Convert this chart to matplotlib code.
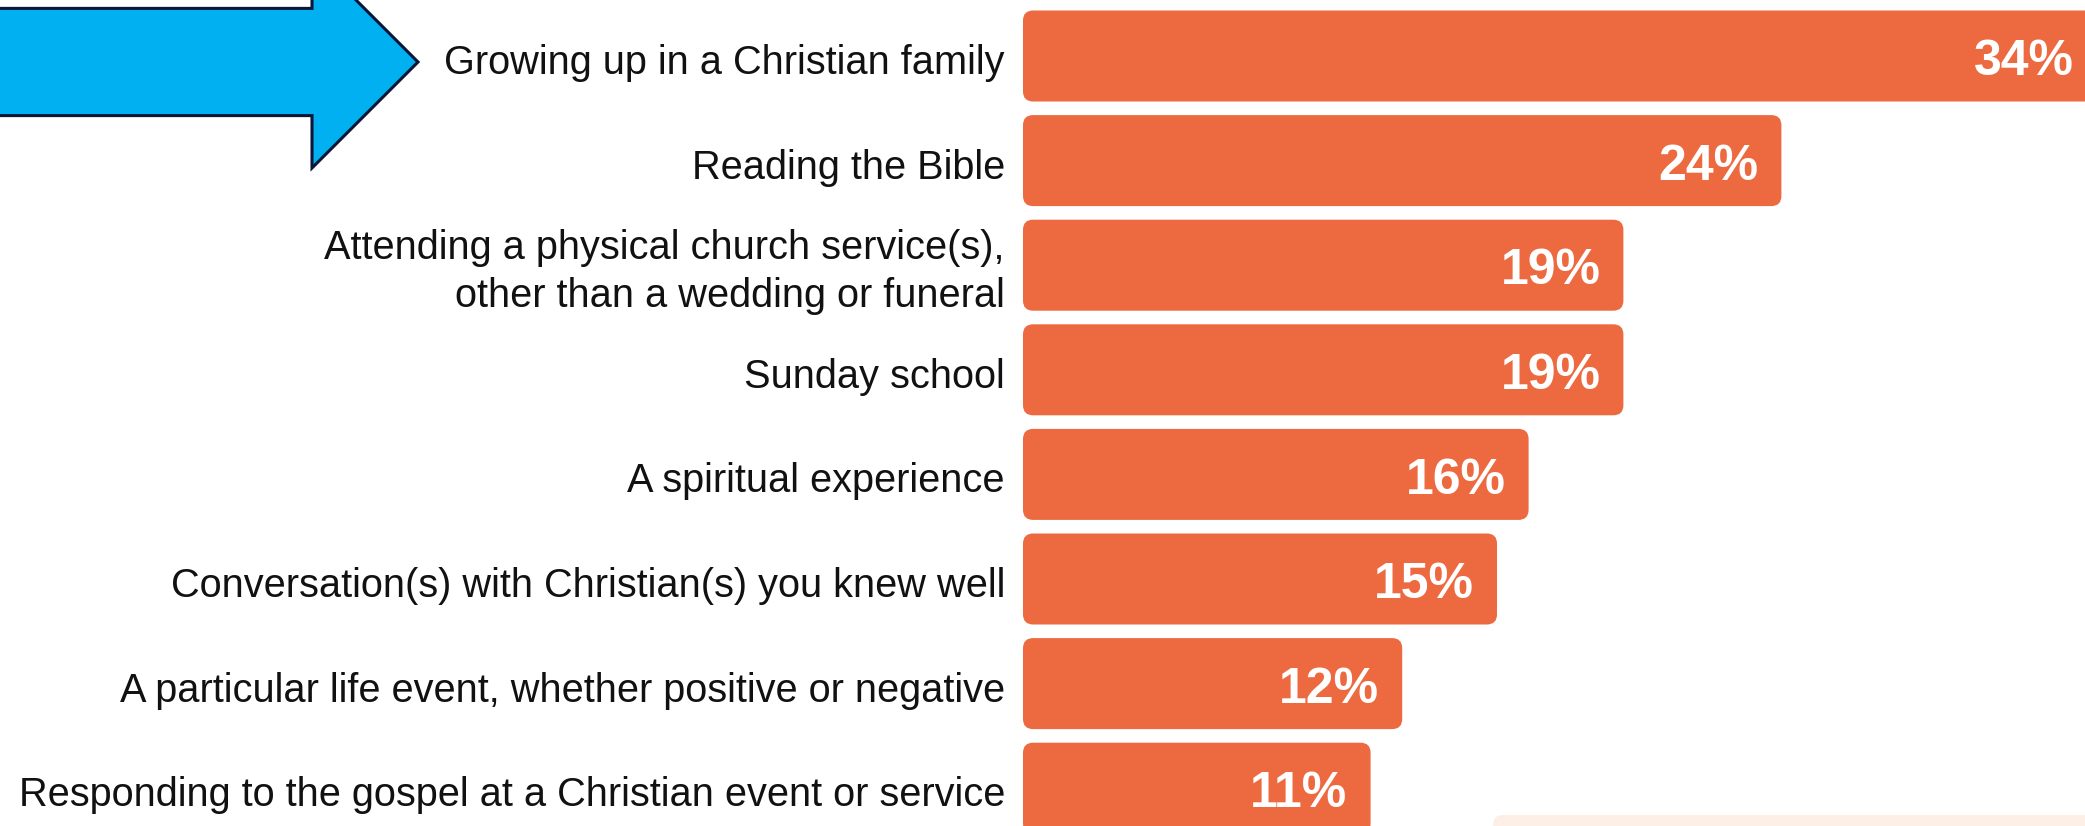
import matplotlib
matplotlib.use("Agg")
import matplotlib.pyplot as plt
from matplotlib import font_manager
from matplotlib.patches import FancyBboxPatch, Polygon

# data
categories = [
    "Growing up in a Christian family",
    "Reading the Bible",
    "Attending a physical church service(s),\nother than a wedding or funeral",
    "Sunday school",
    "A spiritual experience",
    "Conversation(s) with Christian(s) you knew well",
    "A particular life event, whether positive or negative",
    "Responding to the gospel at a Christian event or service",
]
values = [34, 24, 19, 19, 16, 15, 12, 11]
value_labels = ["34%", "24%", "19%", "19%", "16%", "15%", "12%", "11%"]

BAR = "#ED6A40"
BLUE = "#00B0F0"
NAVY = "#0B1638"
PEACH = "#FDEEE6"

W, H = 2085, 826
PX_PER_PCT = 31.6
X0 = 1023          # pixel where 0% sits
PITCH = 104.6      # pixels between bar centres
Y0 = 56            # pixel centre of first bar

names = {f.name for f in font_manager.fontManager.ttflist}
narrow = "Liberation Sans Narrow" if "Liberation Sans Narrow" in names else "Liberation Sans"

fig = plt.figure(figsize=(W / 100, H / 100), dpi=100)
ax = fig.add_axes([0, 0, 1, 1])
ax.set_xlim(-X0 / PX_PER_PCT, (W - X0) / PX_PER_PCT)
ax.set_ylim((H - Y0) / PITCH, -Y0 / PITCH)
ax.axis("off")

# pixel -> data helpers for decorations
def px(x):
    return (x - X0) / PX_PER_PCT

def py(y):
    return (y - Y0) / PITCH

aspect = PX_PER_PCT / PITCH
bar_h = 0.87

for i, (cat, v, lab) in enumerate(zip(categories, values, value_labels)):
    box = FancyBboxPatch(
        (0, i - bar_h / 2), v, bar_h,
        boxstyle="round,pad=0,rounding_size=0.32",
        mutation_aspect=aspect,
        linewidth=0, facecolor=BAR,
    )
    ax.add_patch(box)
    ax.text(-18 / PX_PER_PCT, i + 7 / PITCH, cat, ha="right", va="center",
            fontsize=28.6, family=narrow, color="#111111", linespacing=1.35)
    ax.text(v - 23 / PX_PER_PCT, i + 0.06, lab, ha="right", va="center",
            fontsize=36, family=narrow, weight="bold", color="white")

# faint panel at bottom right
ax.add_patch(FancyBboxPatch(
    (px(1493), py(815)), px(2200) - px(1493), py(900) - py(815),
    boxstyle="round,pad=0,rounding_size=0.32", mutation_aspect=aspect,
    linewidth=0, facecolor=PEACH, zorder=0))

# blue arrow pointing at the top category
arrow_pts = [(-20, 8.4), (312, 8.4), (312, -44), (418, 62),
             (312, 168), (312, 115.6), (-20, 115.6)]
ax.add_patch(Polygon([(px(x), py(y)) for x, y in arrow_pts], closed=True,
                     facecolor=BLUE, edgecolor=NAVY, linewidth=2.2,
                     joinstyle="miter", clip_on=True))

fig.savefig("out.png", dpi=100)
